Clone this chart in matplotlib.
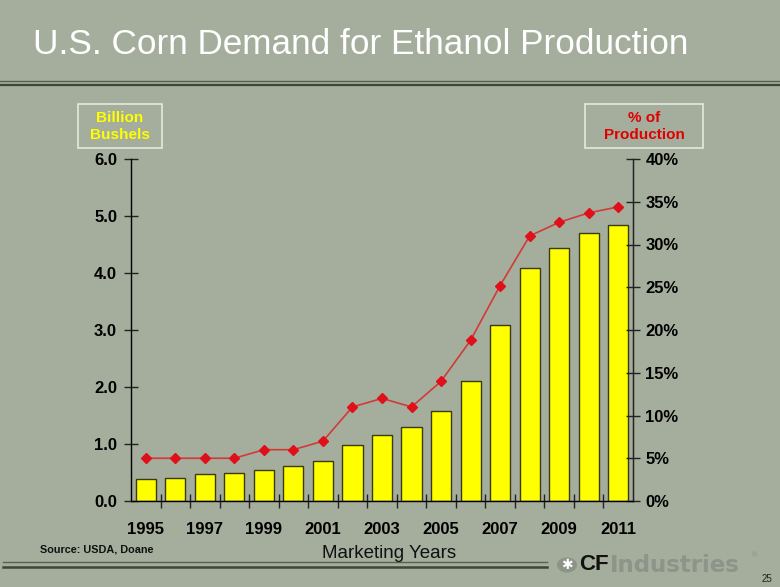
import matplotlib
matplotlib.use("Agg")
import matplotlib.pyplot as plt
import numpy as np
from matplotlib.lines import Line2D
from matplotlib.patches import Rectangle, Circle

years = list(range(1995, 2012))
bushels = [0.39, 0.41, 0.47, 0.50, 0.55, 0.62, 0.70, 0.98, 1.15, 1.29, 1.58,
           2.11, 3.08, 4.09, 4.43, 4.70, 4.85]
pct_production = [5.0, 5.0, 5.0, 5.0, 6.0, 6.0, 7.0, 11.0, 12.0, 11.0, 14.0,
                  18.8, 25.2, 31.0, 32.6, 33.7, 34.4]
left_ticks = [0.0, 1.0, 2.0, 3.0, 4.0, 5.0, 6.0]
right_ticks = [0, 5, 10, 15, 20, 25, 30, 35, 40]
year_labels = [str(y) for y in years[::2]]

BG = "#a5ad9c"
W, H = 780, 587
plt.rcParams['font.family'] = ['Liberation Sans', 'DejaVu Sans']

fig = plt.figure(figsize=(W / 100, H / 100), dpi=100, facecolor=BG)

def fx(px):
    return px / W

def fy(py):
    return 1 - py / H

# Title
fig.text(fx(33), fy(44), "U.S. Corn Demand for Ethanol Production", color="white",
         fontsize=25.3, va="center", ha="left")

# Top double line
fig.add_artist(Line2D([0, 1], [fy(81), fy(81)], color="#59604f", lw=1.0))
fig.add_artist(Line2D([0, 1], [fy(85.5), fy(85.5)], color="#3f4538", lw=1.6))
# Bottom double line
fig.add_artist(Line2D([fx(3), fx(547)], [fy(562), fy(562)], color="#59604f", lw=1.0))
fig.add_artist(Line2D([fx(3), fx(547)], [fy(566.5), fy(566.5)], color="#3f4538", lw=1.8))

# Axes
ax = fig.add_axes([fx(131), fy(501), fx(633) - fx(131), fy(159) - fy(501)])
ax.set_facecolor(BG)
x = np.arange(len(years))
ax.bar(x, bushels, width=0.68, color="#ffff00", edgecolor="#3a3a10", linewidth=1.0, zorder=2)
ax.set_xlim(-0.5, len(years) - 0.5)
ax.set_ylim(0, 6.0)
ax.set_yticks(left_ticks)
ax.set_yticklabels([f"{v:.1f}" for v in left_ticks], fontsize=12, fontweight="bold")
ax.tick_params(axis="y", direction="inout", length=10, width=1, pad=5, colors="#222222",
               labelcolor="black")

ax.set_xticks(x[::2])
ax.set_xticklabels(year_labels, fontsize=12, fontweight="bold")
ax.set_xticks(np.arange(-0.5, len(years) + 0.5, 1.0)[1:-1], minor=True)
ax.tick_params(axis="x", which="major", length=0, pad=15)
ax.tick_params(axis="x", which="minor", direction="inout", length=10, width=1, colors="#222222")
for s in ["top"]:
    ax.spines[s].set_visible(False)
for s in ["left", "bottom", "right"]:
    ax.spines[s].set_color("#222222")
    ax.spines[s].set_linewidth(1.0)

ax2 = ax.twinx()
ax2.plot(x, pct_production, color="#d23a3a", lw=1.2, marker="D", markersize=5,
         markerfacecolor="#e0101a", markeredgecolor="#e0101a", zorder=3)
ax2.set_ylim(0, 40)
ax2.set_yticks(right_ticks)
ax2.set_yticklabels([f"{v}%" for v in right_ticks], fontsize=12, fontweight="bold")
ax2.tick_params(axis="y", direction="inout", length=10, width=1, pad=4, colors="#222222",
                labelcolor="black")
ax2.spines["top"].set_visible(False)
ax2.spines["right"].set_color("#222222")

# Axis label boxes
fig.add_artist(Rectangle((fx(78), fy(148)), fx(162) - fx(78), fy(104) - fy(148),
                         fill=False, edgecolor="#e4e8de", lw=1.2))
fig.text(fx(120), fy(126.5), "Billion\nBushels", color="#ffff00", fontsize=11,
         fontweight="bold", ha="center", va="center", linespacing=1.2)
fig.add_artist(Rectangle((fx(585), fy(148)), fx(703) - fx(585), fy(104) - fy(148),
                         fill=False, edgecolor="#e4e8de", lw=1.2))
fig.text(fx(644), fy(126.5), "% of\nProduction", color="#e00000", fontsize=11,
         fontweight="bold", ha="center", va="center", linespacing=1.2)

# X label and source
fig.text(fx(389), fy(553), "Marketing Years", fontsize=13.5, ha="center", va="center",
         color="#111111")
fig.text(fx(40), fy(550), "Source: USDA, Doane", fontsize=7.8, fontweight="bold",
         ha="left", va="center", color="#111111")

# Logo
fig.add_artist(Circle((fx(567), fy(565)), 10 / W, transform=fig.transFigure,
                      facecolor="#8c9388", edgecolor="none"))
fig.text(fx(567), fy(565), "✱", fontsize=10, color="white", ha="center", va="center",
         family=["DejaVu Sans"])
fig.text(fx(579), fy(565), "CF", fontsize=16, fontweight="bold", color="#111111",
         ha="left", va="center")
fig.text(fx(610), fy(565), "Industries", fontsize=16.5, fontweight="bold", color="#8d9489",
         ha="left", va="center", family=["DejaVu Sans"])
fig.text(fx(752), fy(556), "®", fontsize=5, color="#8d9489", ha="left", va="center")
fig.text(fx(772), fy(579), "25", fontsize=7, color="#222222", ha="right", va="center")

fig.savefig("out.png", dpi=100, facecolor=BG)
